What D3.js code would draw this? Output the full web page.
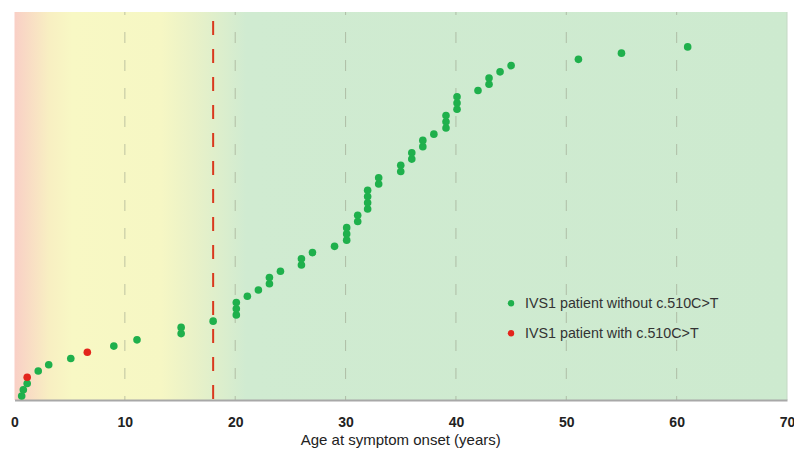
<!DOCTYPE html>
<html>
<head>
<meta charset="utf-8">
<script src="https://cdn.jsdelivr.net/npm/d3@7"></script>
<style>
  html, body { margin: 0; padding: 0; background: #fff; }
  svg { display: block; }
</style>
</head>
<body>
<svg id="chart" width="794" height="454"></svg>
<script>
// ---- Data ----
const ages = [0.65, 0.8, 1.15, 1.15, 2.15, 3.1, 5.1, 6.6, 9.0, 11.1, 15.1, 15.1, 18.0,
  20.1, 20.1, 20.1, 21.1, 22.1, 23.1, 23.1, 24.1, 26.0, 26.0, 27.0, 29.0,
  30.1, 30.1, 30.1, 31.1, 31.1, 32.0, 32.0, 32.0, 32.0, 33.0, 33.0, 35.0, 35.0,
  36.0, 36.0, 37.0, 37.0, 38.0, 39.1, 39.1, 39.1, 40.1, 40.1, 40.1, 42.0,
  43.0, 43.0, 44.0, 45.0, 51.1, 55.0, 61.0];
// cumulative patient count (rank)
const ranks = ages.map((d, i) => i + 1);
// 1 = IVS1 patient with c.510C>T, 0 = without
const withVariant = [0,0,0,1,0,0,0,1,0,0,0,0,0,0,0,0,0,0,0,0,0,0,0,0,0,0,0,0,0,0,
  0,0,0,0,0,0,0,0,0,0,0,0,0,0,0,0,0,0,0,0,0,0,0,0,0,0,0];
const xTicks = [0, 10, 20, 30, 40, 50, 60, 70];
const gridTicks = [10, 20, 30, 40, 50, 60];
const cutoffAge = 18;
const legendLabels = ["IVS1 patient without c.510C>T", "IVS1 patient with c.510C>T"];
const colors = ["#1fb04c", "#e3251c"];

// ---- Layout ----
const svg = d3.select("#chart");
const L = 14.5, R = 787, T = 12, B = 400;
const x = d3.scaleLinear().domain([0, 70]).range([L, R]);
const y = d3.scaleLinear().domain([0.35, 62.6]).range([B, T]);

// background gradient
const defs = svg.append("defs");
const grad = defs.append("linearGradient").attr("id", "bg").attr("x1", "0").attr("x2", "1").attr("y1", "0").attr("y2", "0");
[[0, "#f9cfc6"], [0.045, "#f8efc2"], [0.075, "#f8f8c4"], [0.19, "#f6f7c4"], [0.235, "#e8f1c8"], [0.3, "#d0ebd1"], [1, "#cdeacf"]]
  .forEach(([o, c]) => grad.append("stop").attr("offset", o).attr("stop-color", c));

svg.append("rect").attr("x", L).attr("y", T).attr("width", R - L).attr("height", B - T).attr("fill", "url(#bg)");

// grid lines
svg.append("g").selectAll("line").data(gridTicks).join("line")
  .attr("x1", d => x(d)).attr("x2", d => x(d))
  .attr("y1", T).attr("y2", B)
  .attr("stroke", "#9aa08a").attr("stroke-opacity", 0.6).attr("stroke-width", 1)
  .attr("stroke-dasharray", "11,17").attr("stroke-dashoffset", 8);

// right edge
svg.append("line").attr("x1", R).attr("x2", R).attr("y1", T).attr("y2", B)
  .attr("stroke", "#c4d8c4").attr("stroke-width", 1);

// cutoff line
svg.append("line").attr("x1", x(cutoffAge)).attr("x2", x(cutoffAge))
  .attr("y1", 21).attr("y2", B)
  .attr("stroke", "#d9381e").attr("stroke-width", 2)
  .attr("stroke-dasharray", "14,14");

// x axis
const axis = d3.axisBottom(x).tickValues(xTicks).tickSize(0).tickFormat(d3.format("d"));
const gx = svg.append("g").attr("transform", `translate(0,${B})`).call(axis);
gx.select(".domain").attr("stroke", "#a8a8a8").attr("stroke-width", 2);
gx.selectAll("text")
  .attr("dy", null).attr("y", 27)
  .attr("font-family", "Liberation Sans, Arial, sans-serif")
  .attr("font-size", 14).attr("font-weight", "bold").attr("fill", "#222");

svg.append("text").attr("x", (L + R) / 2).attr("y", 445)
  .attr("text-anchor", "middle")
  .attr("font-family", "Liberation Sans, Arial, sans-serif")
  .attr("font-size", 15).attr("fill", "#222")
  .text("Age at symptom onset (years)");

// points
svg.append("g").selectAll("circle").data(ages).join("circle")
  .attr("cx", d => x(d))
  .attr("cy", (d, i) => y(ranks[i]))
  .attr("r", 3.8)
  .attr("fill", (d, i) => colors[withVariant[i]]);

// legend
const lg = svg.append("g").selectAll("g").data(legendLabels).join("g")
  .attr("transform", (d, i) => `translate(511,${303.3 + i * 30})`);
lg.append("circle").attr("r", 3.2).attr("fill", (d, i) => colors[i]);
lg.append("text").attr("x", 14).attr("y", 5)
  .attr("font-family", "Liberation Sans, Arial, sans-serif")
  .attr("font-size", 14.3).attr("fill", "#333")
  .text(d => d);
</script>
</body>
</html>
